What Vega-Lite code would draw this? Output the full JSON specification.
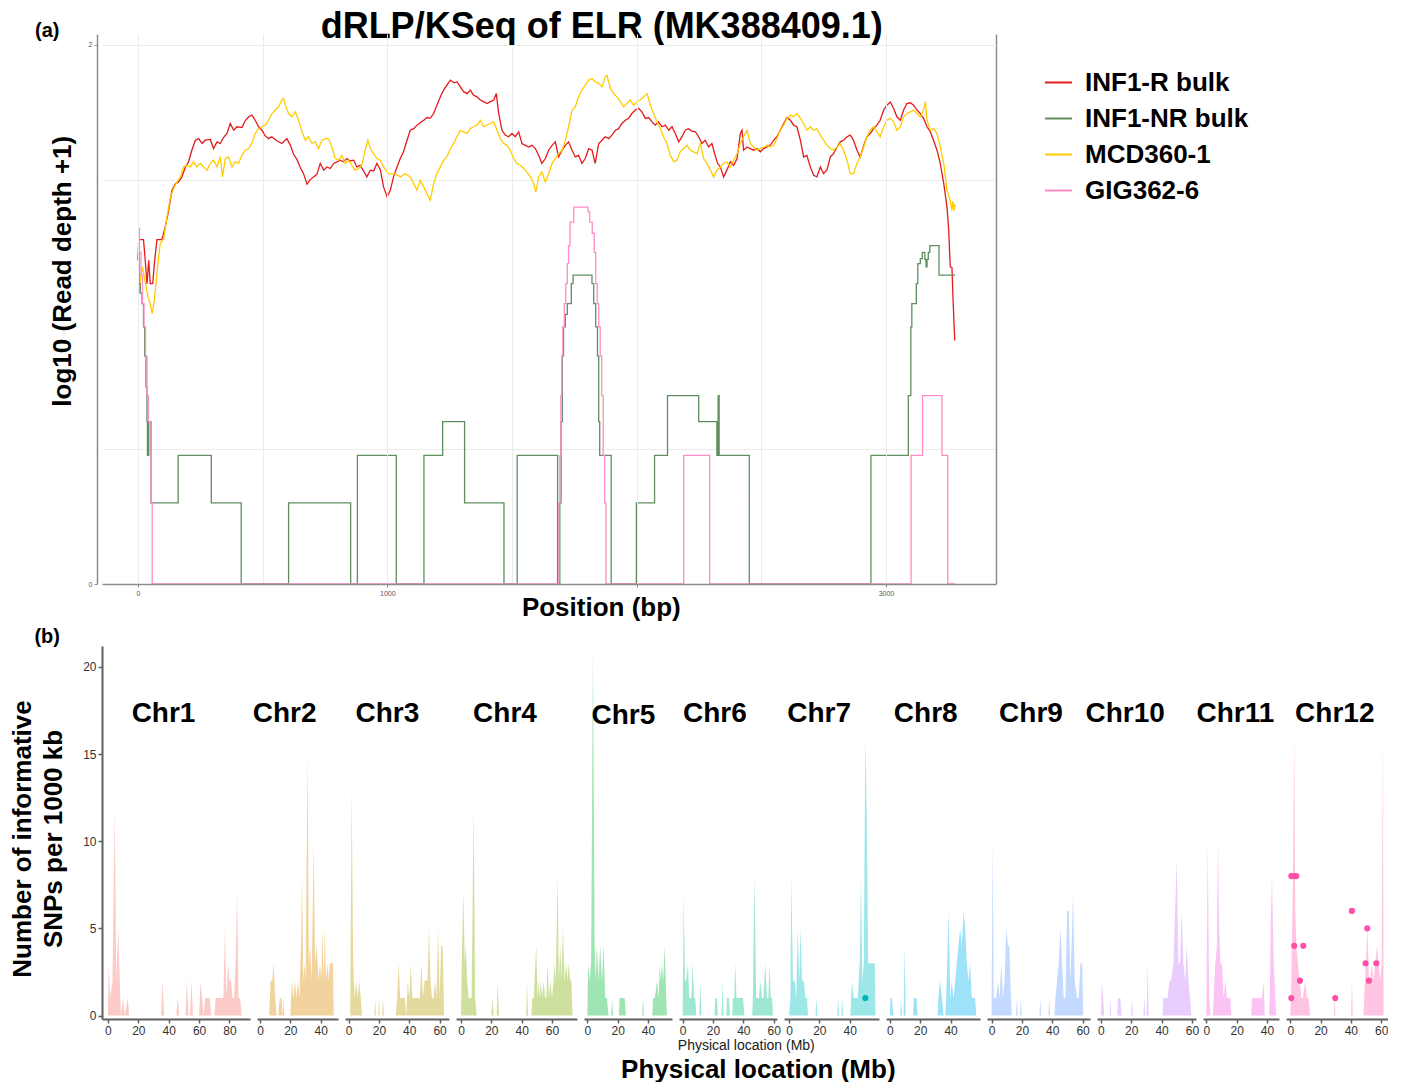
{
"$schema":"https://vega.github.io/schema/vega-lite/v6.json",
"padding":{"left":9,"top":8,"right":0,"bottom":0},
"config":{
 "font":"Liberation Sans",
 "view":{"stroke":null},
 "axis":{"labelOverlap":false,"labelFlush":false},
 "style":{
  "tx":{"domainColor":"#8c8c8c","domainWidth":1.5,"tickColor":"#8c8c8c","tickSize":3,"tickWidth":1,"labelFontSize":7,"labelColor":"#555555","gridColor":"#ebebeb","gridWidth":1,"labelPadding":2},
  "bx":{"domainColor":"#5f5f5f","domainWidth":2,"tickColor":"#5f5f5f","tickSize":4,"tickWidth":1.5,"labelFontSize":12,"labelColor":"#333333","labelPadding":2,"grid":false}
 }
},
"datasets":{
 "lin":[
{"s":"INF1-R bulk","bp":0,"v":1.2},{"s":"INF1-R bulk","bp":3,"v":1.28},{"s":"INF1-R bulk","bp":9,"v":1.277},{"s":"INF1-R bulk","bp":22,"v":1.277},{"s":"INF1-R bulk","bp":29,"v":1.201},{"s":"INF1-R bulk","bp":36,"v":1.114},{"s":"INF1-R bulk","bp":43,"v":1.201},{"s":"INF1-R bulk","bp":49,"v":1.114},{"s":"INF1-R bulk","bp":59,"v":1.114},{"s":"INF1-R bulk","bp":67,"v":1.201},{"s":"INF1-R bulk","bp":76,"v":1.277},{"s":"INF1-R bulk","bp":96,"v":1.277},{"s":"INF1-R bulk","bp":109,"v":1.324},{"s":"INF1-R bulk","bp":123,"v":1.386},{"s":"INF1-R bulk","bp":136,"v":1.46},{"s":"INF1-R bulk","bp":150,"v":1.485},{"s":"INF1-R bulk","bp":163,"v":1.491},{"s":"INF1-R bulk","bp":176,"v":1.51},{"s":"INF1-R bulk","bp":190,"v":1.547},{"s":"INF1-R bulk","bp":203,"v":1.566},{"s":"INF1-R bulk","bp":216,"v":1.609},{"s":"INF1-R bulk","bp":230,"v":1.646},{"s":"INF1-R bulk","bp":243,"v":1.652},{"s":"INF1-R bulk","bp":257,"v":1.634},{"s":"INF1-R bulk","bp":270,"v":1.646},{"s":"INF1-R bulk","bp":290,"v":1.649},{"s":"INF1-R bulk","bp":303,"v":1.615},{"s":"INF1-R bulk","bp":317,"v":1.64},{"s":"INF1-R bulk","bp":330,"v":1.634},{"s":"INF1-R bulk","bp":343,"v":1.656},{"s":"INF1-R bulk","bp":357,"v":1.671},{"s":"INF1-R bulk","bp":370,"v":1.708},{"s":"INF1-R bulk","bp":384,"v":1.683},{"s":"INF1-R bulk","bp":397,"v":1.696},{"s":"INF1-R bulk","bp":417,"v":1.693},{"s":"INF1-R bulk","bp":430,"v":1.718},{"s":"INF1-R bulk","bp":444,"v":1.733},{"s":"INF1-R bulk","bp":457,"v":1.739},{"s":"INF1-R bulk","bp":470,"v":1.72},{"s":"INF1-R bulk","bp":484,"v":1.696},{"s":"INF1-R bulk","bp":497,"v":1.683},{"s":"INF1-R bulk","bp":511,"v":1.661},{"s":"INF1-R bulk","bp":524,"v":1.652},{"s":"INF1-R bulk","bp":537,"v":1.659},{"s":"INF1-R bulk","bp":557,"v":1.644},{"s":"INF1-R bulk","bp":577,"v":1.634},{"s":"INF1-R bulk","bp":597,"v":1.652},{"s":"INF1-R bulk","bp":611,"v":1.628},{"s":"INF1-R bulk","bp":624,"v":1.594},{"s":"INF1-R bulk","bp":638,"v":1.574},{"s":"INF1-R bulk","bp":651,"v":1.545},{"s":"INF1-R bulk","bp":664,"v":1.522},{"s":"INF1-R bulk","bp":678,"v":1.483},{"s":"INF1-R bulk","bp":691,"v":1.5},{"s":"INF1-R bulk","bp":704,"v":1.51},{"s":"INF1-R bulk","bp":718,"v":1.52},{"s":"INF1-R bulk","bp":731,"v":1.56},{"s":"INF1-R bulk","bp":745,"v":1.535},{"s":"INF1-R bulk","bp":758,"v":1.547},{"s":"INF1-R bulk","bp":771,"v":1.541},{"s":"INF1-R bulk","bp":785,"v":1.56},{"s":"INF1-R bulk","bp":798,"v":1.566},{"s":"INF1-R bulk","bp":811,"v":1.572},{"s":"INF1-R bulk","bp":825,"v":1.566},{"s":"INF1-R bulk","bp":838,"v":1.578},{"s":"INF1-R bulk","bp":851,"v":1.569},{"s":"INF1-R bulk","bp":865,"v":1.572},{"s":"INF1-R bulk","bp":878,"v":1.547},{"s":"INF1-R bulk","bp":891,"v":1.553},{"s":"INF1-R bulk","bp":905,"v":1.532},{"s":"INF1-R bulk","bp":918,"v":1.51},{"s":"INF1-R bulk","bp":932,"v":1.535},{"s":"INF1-R bulk","bp":945,"v":1.532},{"s":"INF1-R bulk","bp":958,"v":1.56},{"s":"INF1-R bulk","bp":972,"v":1.537},{"s":"INF1-R bulk","bp":985,"v":1.473},{"s":"INF1-R bulk","bp":999,"v":1.436},{"s":"INF1-R bulk","bp":1012,"v":1.46},{"s":"INF1-R bulk","bp":1025,"v":1.51},{"s":"INF1-R bulk","bp":1039,"v":1.547},{"s":"INF1-R bulk","bp":1052,"v":1.578},{"s":"INF1-R bulk","bp":1065,"v":1.603},{"s":"INF1-R bulk","bp":1079,"v":1.646},{"s":"INF1-R bulk","bp":1092,"v":1.683},{"s":"INF1-R bulk","bp":1106,"v":1.689},{"s":"INF1-R bulk","bp":1119,"v":1.702},{"s":"INF1-R bulk","bp":1132,"v":1.711},{"s":"INF1-R bulk","bp":1146,"v":1.72},{"s":"INF1-R bulk","bp":1159,"v":1.73},{"s":"INF1-R bulk","bp":1172,"v":1.727},{"s":"INF1-R bulk","bp":1186,"v":1.745},{"s":"INF1-R bulk","bp":1199,"v":1.776},{"s":"INF1-R bulk","bp":1213,"v":1.807},{"s":"INF1-R bulk","bp":1226,"v":1.832},{"s":"INF1-R bulk","bp":1239,"v":1.85},{"s":"INF1-R bulk","bp":1253,"v":1.869},{"s":"INF1-R bulk","bp":1266,"v":1.859},{"s":"INF1-R bulk","bp":1279,"v":1.863},{"s":"INF1-R bulk","bp":1293,"v":1.844},{"s":"INF1-R bulk","bp":1306,"v":1.826},{"s":"INF1-R bulk","bp":1320,"v":1.819},{"s":"INF1-R bulk","bp":1333,"v":1.832},{"s":"INF1-R bulk","bp":1346,"v":1.813},{"s":"INF1-R bulk","bp":1360,"v":1.807},{"s":"INF1-R bulk","bp":1373,"v":1.795},{"s":"INF1-R bulk","bp":1386,"v":1.789},{"s":"INF1-R bulk","bp":1400,"v":1.782},{"s":"INF1-R bulk","bp":1413,"v":1.789},{"s":"INF1-R bulk","bp":1427,"v":1.795},{"s":"INF1-R bulk","bp":1437,"v":1.819},{"s":"INF1-R bulk","bp":1447,"v":1.745},{"s":"INF1-R bulk","bp":1460,"v":1.683},{"s":"INF1-R bulk","bp":1473,"v":1.665},{"s":"INF1-R bulk","bp":1487,"v":1.659},{"s":"INF1-R bulk","bp":1500,"v":1.671},{"s":"INF1-R bulk","bp":1513,"v":1.659},{"s":"INF1-R bulk","bp":1527,"v":1.677},{"s":"INF1-R bulk","bp":1540,"v":1.634},{"s":"INF1-R bulk","bp":1554,"v":1.627},{"s":"INF1-R bulk","bp":1567,"v":1.621},{"s":"INF1-R bulk","bp":1580,"v":1.627},{"s":"INF1-R bulk","bp":1594,"v":1.615},{"s":"INF1-R bulk","bp":1607,"v":1.59},{"s":"INF1-R bulk","bp":1620,"v":1.56},{"s":"INF1-R bulk","bp":1634,"v":1.578},{"s":"INF1-R bulk","bp":1647,"v":1.609},{"s":"INF1-R bulk","bp":1661,"v":1.627},{"s":"INF1-R bulk","bp":1674,"v":1.64},{"s":"INF1-R bulk","bp":1687,"v":1.584},{"s":"INF1-R bulk","bp":1701,"v":1.609},{"s":"INF1-R bulk","bp":1714,"v":1.627},{"s":"INF1-R bulk","bp":1727,"v":1.64},{"s":"INF1-R bulk","bp":1741,"v":1.609},{"s":"INF1-R bulk","bp":1754,"v":1.584},{"s":"INF1-R bulk","bp":1767,"v":1.59},{"s":"INF1-R bulk","bp":1781,"v":1.56},{"s":"INF1-R bulk","bp":1794,"v":1.578},{"s":"INF1-R bulk","bp":1808,"v":1.615},{"s":"INF1-R bulk","bp":1821,"v":1.609},{"s":"INF1-R bulk","bp":1834,"v":1.56},{"s":"INF1-R bulk","bp":1848,"v":1.634},{"s":"INF1-R bulk","bp":1861,"v":1.646},{"s":"INF1-R bulk","bp":1874,"v":1.659},{"s":"INF1-R bulk","bp":1888,"v":1.652},{"s":"INF1-R bulk","bp":1901,"v":1.665},{"s":"INF1-R bulk","bp":1915,"v":1.683},{"s":"INF1-R bulk","bp":1928,"v":1.689},{"s":"INF1-R bulk","bp":1941,"v":1.708},{"s":"INF1-R bulk","bp":1955,"v":1.72},{"s":"INF1-R bulk","bp":1968,"v":1.727},{"s":"INF1-R bulk","bp":1981,"v":1.745},{"s":"INF1-R bulk","bp":1995,"v":1.758},{"s":"INF1-R bulk","bp":2008,"v":1.764},{"s":"INF1-R bulk","bp":2021,"v":1.751},{"s":"INF1-R bulk","bp":2035,"v":1.727},{"s":"INF1-R bulk","bp":2048,"v":1.73},{"s":"INF1-R bulk","bp":2062,"v":1.714},{"s":"INF1-R bulk","bp":2075,"v":1.702},{"s":"INF1-R bulk","bp":2088,"v":1.714},{"s":"INF1-R bulk","bp":2102,"v":1.696},{"s":"INF1-R bulk","bp":2115,"v":1.702},{"s":"INF1-R bulk","bp":2129,"v":1.683},{"s":"INF1-R bulk","bp":2142,"v":1.696},{"s":"INF1-R bulk","bp":2155,"v":1.671},{"s":"INF1-R bulk","bp":2169,"v":1.64},{"s":"INF1-R bulk","bp":2182,"v":1.659},{"s":"INF1-R bulk","bp":2195,"v":1.683},{"s":"INF1-R bulk","bp":2208,"v":1.689},{"s":"INF1-R bulk","bp":2222,"v":1.68},{"s":"INF1-R bulk","bp":2236,"v":1.677},{"s":"INF1-R bulk","bp":2249,"v":1.659},{"s":"INF1-R bulk","bp":2262,"v":1.634},{"s":"INF1-R bulk","bp":2275,"v":1.646},{"s":"INF1-R bulk","bp":2289,"v":1.621},{"s":"INF1-R bulk","bp":2302,"v":1.634},{"s":"INF1-R bulk","bp":2315,"v":1.59},{"s":"INF1-R bulk","bp":2325,"v":1.56},{"s":"INF1-R bulk","bp":2336,"v":1.547},{"s":"INF1-R bulk","bp":2349,"v":1.51},{"s":"INF1-R bulk","bp":2362,"v":1.535},{"s":"INF1-R bulk","bp":2376,"v":1.566},{"s":"INF1-R bulk","bp":2389,"v":1.553},{"s":"INF1-R bulk","bp":2403,"v":1.578},{"s":"INF1-R bulk","bp":2416,"v":1.671},{"s":"INF1-R bulk","bp":2423,"v":1.683},{"s":"INF1-R bulk","bp":2429,"v":1.609},{"s":"INF1-R bulk","bp":2443,"v":1.621},{"s":"INF1-R bulk","bp":2456,"v":1.615},{"s":"INF1-R bulk","bp":2469,"v":1.609},{"s":"INF1-R bulk","bp":2483,"v":1.615},{"s":"INF1-R bulk","bp":2496,"v":1.603},{"s":"INF1-R bulk","bp":2510,"v":1.615},{"s":"INF1-R bulk","bp":2523,"v":1.621},{"s":"INF1-R bulk","bp":2536,"v":1.627},{"s":"INF1-R bulk","bp":2550,"v":1.646},{"s":"INF1-R bulk","bp":2563,"v":1.659},{"s":"INF1-R bulk","bp":2576,"v":1.683},{"s":"INF1-R bulk","bp":2590,"v":1.708},{"s":"INF1-R bulk","bp":2603,"v":1.73},{"s":"INF1-R bulk","bp":2617,"v":1.72},{"s":"INF1-R bulk","bp":2630,"v":1.702},{"s":"INF1-R bulk","bp":2643,"v":1.696},{"s":"INF1-R bulk","bp":2657,"v":1.646},{"s":"INF1-R bulk","bp":2670,"v":1.584},{"s":"INF1-R bulk","bp":2683,"v":1.59},{"s":"INF1-R bulk","bp":2697,"v":1.547},{"s":"INF1-R bulk","bp":2710,"v":1.516},{"s":"INF1-R bulk","bp":2723,"v":1.51},{"s":"INF1-R bulk","bp":2737,"v":1.547},{"s":"INF1-R bulk","bp":2750,"v":1.522},{"s":"INF1-R bulk","bp":2764,"v":1.537},{"s":"INF1-R bulk","bp":2777,"v":1.584},{"s":"INF1-R bulk","bp":2790,"v":1.596},{"s":"INF1-R bulk","bp":2804,"v":1.621},{"s":"INF1-R bulk","bp":2817,"v":1.64},{"s":"INF1-R bulk","bp":2830,"v":1.646},{"s":"INF1-R bulk","bp":2844,"v":1.659},{"s":"INF1-R bulk","bp":2857,"v":1.665},{"s":"INF1-R bulk","bp":2870,"v":1.646},{"s":"INF1-R bulk","bp":2884,"v":1.609},{"s":"INF1-R bulk","bp":2897,"v":1.584},{"s":"INF1-R bulk","bp":2911,"v":1.627},{"s":"INF1-R bulk","bp":2924,"v":1.659},{"s":"INF1-R bulk","bp":2937,"v":1.671},{"s":"INF1-R bulk","bp":2951,"v":1.689},{"s":"INF1-R bulk","bp":2964,"v":1.702},{"s":"INF1-R bulk","bp":2977,"v":1.72},{"s":"INF1-R bulk","bp":2991,"v":1.758},{"s":"INF1-R bulk","bp":3004,"v":1.776},{"s":"INF1-R bulk","bp":3018,"v":1.788},{"s":"INF1-R bulk","bp":3031,"v":1.764},{"s":"INF1-R bulk","bp":3044,"v":1.733},{"s":"INF1-R bulk","bp":3058,"v":1.72},{"s":"INF1-R bulk","bp":3071,"v":1.758},{"s":"INF1-R bulk","bp":3084,"v":1.782},{"s":"INF1-R bulk","bp":3098,"v":1.785},{"s":"INF1-R bulk","bp":3111,"v":1.776},{"s":"INF1-R bulk","bp":3125,"v":1.758},{"s":"INF1-R bulk","bp":3138,"v":1.745},{"s":"INF1-R bulk","bp":3151,"v":1.727},{"s":"INF1-R bulk","bp":3165,"v":1.696},{"s":"INF1-R bulk","bp":3178,"v":1.677},{"s":"INF1-R bulk","bp":3191,"v":1.646},{"s":"INF1-R bulk","bp":3205,"v":1.609},{"s":"INF1-R bulk","bp":3218,"v":1.56},{"s":"INF1-R bulk","bp":3232,"v":1.485},{"s":"INF1-R bulk","bp":3245,"v":1.399},{"s":"INF1-R bulk","bp":3252,"v":1.312},{"s":"INF1-R bulk","bp":3258,"v":1.176},{"s":"INF1-R bulk","bp":3265,"v":1.173},{"s":"INF1-R bulk","bp":3269,"v":1.064},{"s":"INF1-R bulk","bp":3276,"v":0.903},
{"s":"MCD360-1","bp":5,"v":1.08},{"s":"MCD360-1","bp":10,"v":1.14},{"s":"MCD360-1","bp":18,"v":1.176},{"s":"MCD360-1","bp":25,"v":1.14},{"s":"MCD360-1","bp":30,"v":1.114},{"s":"MCD360-1","bp":40,"v":1.064},{"s":"MCD360-1","bp":49,"v":1.04},{"s":"MCD360-1","bp":57,"v":1.003},{"s":"MCD360-1","bp":65,"v":1.05},{"s":"MCD360-1","bp":72,"v":1.114},{"s":"MCD360-1","bp":80,"v":1.188},{"s":"MCD360-1","bp":89,"v":1.262},{"s":"MCD360-1","bp":103,"v":1.281},{"s":"MCD360-1","bp":116,"v":1.361},{"s":"MCD360-1","bp":130,"v":1.436},{"s":"MCD360-1","bp":143,"v":1.467},{"s":"MCD360-1","bp":156,"v":1.491},{"s":"MCD360-1","bp":170,"v":1.51},{"s":"MCD360-1","bp":183,"v":1.547},{"s":"MCD360-1","bp":196,"v":1.553},{"s":"MCD360-1","bp":210,"v":1.547},{"s":"MCD360-1","bp":223,"v":1.566},{"s":"MCD360-1","bp":236,"v":1.547},{"s":"MCD360-1","bp":250,"v":1.56},{"s":"MCD360-1","bp":263,"v":1.547},{"s":"MCD360-1","bp":277,"v":1.535},{"s":"MCD360-1","bp":290,"v":1.56},{"s":"MCD360-1","bp":303,"v":1.572},{"s":"MCD360-1","bp":317,"v":1.547},{"s":"MCD360-1","bp":330,"v":1.584},{"s":"MCD360-1","bp":339,"v":1.51},{"s":"MCD360-1","bp":350,"v":1.578},{"s":"MCD360-1","bp":363,"v":1.584},{"s":"MCD360-1","bp":377,"v":1.547},{"s":"MCD360-1","bp":390,"v":1.566},{"s":"MCD360-1","bp":403,"v":1.56},{"s":"MCD360-1","bp":417,"v":1.59},{"s":"MCD360-1","bp":430,"v":1.609},{"s":"MCD360-1","bp":444,"v":1.615},{"s":"MCD360-1","bp":457,"v":1.634},{"s":"MCD360-1","bp":470,"v":1.671},{"s":"MCD360-1","bp":484,"v":1.689},{"s":"MCD360-1","bp":497,"v":1.696},{"s":"MCD360-1","bp":511,"v":1.702},{"s":"MCD360-1","bp":524,"v":1.72},{"s":"MCD360-1","bp":537,"v":1.745},{"s":"MCD360-1","bp":551,"v":1.758},{"s":"MCD360-1","bp":564,"v":1.77},{"s":"MCD360-1","bp":577,"v":1.795},{"s":"MCD360-1","bp":584,"v":1.801},{"s":"MCD360-1","bp":591,"v":1.776},{"s":"MCD360-1","bp":604,"v":1.745},{"s":"MCD360-1","bp":617,"v":1.733},{"s":"MCD360-1","bp":631,"v":1.751},{"s":"MCD360-1","bp":644,"v":1.72},{"s":"MCD360-1","bp":658,"v":1.677},{"s":"MCD360-1","bp":671,"v":1.646},{"s":"MCD360-1","bp":684,"v":1.659},{"s":"MCD360-1","bp":698,"v":1.634},{"s":"MCD360-1","bp":711,"v":1.64},{"s":"MCD360-1","bp":724,"v":1.615},{"s":"MCD360-1","bp":738,"v":1.646},{"s":"MCD360-1","bp":751,"v":1.652},{"s":"MCD360-1","bp":764,"v":1.652},{"s":"MCD360-1","bp":778,"v":1.621},{"s":"MCD360-1","bp":791,"v":1.578},{"s":"MCD360-1","bp":805,"v":1.572},{"s":"MCD360-1","bp":818,"v":1.59},{"s":"MCD360-1","bp":831,"v":1.56},{"s":"MCD360-1","bp":845,"v":1.572},{"s":"MCD360-1","bp":858,"v":1.553},{"s":"MCD360-1","bp":871,"v":1.535},{"s":"MCD360-1","bp":885,"v":1.541},{"s":"MCD360-1","bp":898,"v":1.553},{"s":"MCD360-1","bp":911,"v":1.609},{"s":"MCD360-1","bp":922,"v":1.646},{"s":"MCD360-1","bp":932,"v":1.615},{"s":"MCD360-1","bp":945,"v":1.596},{"s":"MCD360-1","bp":958,"v":1.578},{"s":"MCD360-1","bp":972,"v":1.572},{"s":"MCD360-1","bp":985,"v":1.547},{"s":"MCD360-1","bp":999,"v":1.528},{"s":"MCD360-1","bp":1012,"v":1.52},{"s":"MCD360-1","bp":1032,"v":1.522},{"s":"MCD360-1","bp":1052,"v":1.51},{"s":"MCD360-1","bp":1072,"v":1.522},{"s":"MCD360-1","bp":1092,"v":1.51},{"s":"MCD360-1","bp":1106,"v":1.485},{"s":"MCD360-1","bp":1119,"v":1.46},{"s":"MCD360-1","bp":1132,"v":1.497},{"s":"MCD360-1","bp":1146,"v":1.473},{"s":"MCD360-1","bp":1159,"v":1.448},{"s":"MCD360-1","bp":1172,"v":1.423},{"s":"MCD360-1","bp":1186,"v":1.485},{"s":"MCD360-1","bp":1199,"v":1.522},{"s":"MCD360-1","bp":1213,"v":1.547},{"s":"MCD360-1","bp":1226,"v":1.572},{"s":"MCD360-1","bp":1239,"v":1.584},{"s":"MCD360-1","bp":1253,"v":1.615},{"s":"MCD360-1","bp":1266,"v":1.634},{"s":"MCD360-1","bp":1279,"v":1.659},{"s":"MCD360-1","bp":1293,"v":1.683},{"s":"MCD360-1","bp":1306,"v":1.677},{"s":"MCD360-1","bp":1320,"v":1.671},{"s":"MCD360-1","bp":1333,"v":1.689},{"s":"MCD360-1","bp":1346,"v":1.696},{"s":"MCD360-1","bp":1360,"v":1.702},{"s":"MCD360-1","bp":1373,"v":1.72},{"s":"MCD360-1","bp":1386,"v":1.696},{"s":"MCD360-1","bp":1400,"v":1.702},{"s":"MCD360-1","bp":1413,"v":1.708},{"s":"MCD360-1","bp":1427,"v":1.714},{"s":"MCD360-1","bp":1440,"v":1.683},{"s":"MCD360-1","bp":1453,"v":1.652},{"s":"MCD360-1","bp":1467,"v":1.634},{"s":"MCD360-1","bp":1480,"v":1.627},{"s":"MCD360-1","bp":1493,"v":1.609},{"s":"MCD360-1","bp":1507,"v":1.578},{"s":"MCD360-1","bp":1520,"v":1.56},{"s":"MCD360-1","bp":1534,"v":1.553},{"s":"MCD360-1","bp":1547,"v":1.541},{"s":"MCD360-1","bp":1560,"v":1.528},{"s":"MCD360-1","bp":1574,"v":1.51},{"s":"MCD360-1","bp":1587,"v":1.485},{"s":"MCD360-1","bp":1596,"v":1.454},{"s":"MCD360-1","bp":1607,"v":1.51},{"s":"MCD360-1","bp":1620,"v":1.528},{"s":"MCD360-1","bp":1634,"v":1.491},{"s":"MCD360-1","bp":1647,"v":1.522},{"s":"MCD360-1","bp":1661,"v":1.56},{"s":"MCD360-1","bp":1674,"v":1.578},{"s":"MCD360-1","bp":1687,"v":1.596},{"s":"MCD360-1","bp":1701,"v":1.609},{"s":"MCD360-1","bp":1714,"v":1.646},{"s":"MCD360-1","bp":1727,"v":1.696},{"s":"MCD360-1","bp":1741,"v":1.758},{"s":"MCD360-1","bp":1754,"v":1.77},{"s":"MCD360-1","bp":1767,"v":1.807},{"s":"MCD360-1","bp":1781,"v":1.832},{"s":"MCD360-1","bp":1794,"v":1.85},{"s":"MCD360-1","bp":1808,"v":1.869},{"s":"MCD360-1","bp":1821,"v":1.875},{"s":"MCD360-1","bp":1834,"v":1.863},{"s":"MCD360-1","bp":1848,"v":1.857},{"s":"MCD360-1","bp":1861,"v":1.844},{"s":"MCD360-1","bp":1874,"v":1.881},{"s":"MCD360-1","bp":1881,"v":1.887},{"s":"MCD360-1","bp":1895,"v":1.838},{"s":"MCD360-1","bp":1908,"v":1.819},{"s":"MCD360-1","bp":1921,"v":1.807},{"s":"MCD360-1","bp":1935,"v":1.789},{"s":"MCD360-1","bp":1948,"v":1.77},{"s":"MCD360-1","bp":1961,"v":1.782},{"s":"MCD360-1","bp":1975,"v":1.795},{"s":"MCD360-1","bp":1988,"v":1.776},{"s":"MCD360-1","bp":2002,"v":1.789},{"s":"MCD360-1","bp":2015,"v":1.795},{"s":"MCD360-1","bp":2028,"v":1.807},{"s":"MCD360-1","bp":2042,"v":1.819},{"s":"MCD360-1","bp":2055,"v":1.776},{"s":"MCD360-1","bp":2068,"v":1.745},{"s":"MCD360-1","bp":2082,"v":1.714},{"s":"MCD360-1","bp":2095,"v":1.689},{"s":"MCD360-1","bp":2108,"v":1.659},{"s":"MCD360-1","bp":2122,"v":1.634},{"s":"MCD360-1","bp":2135,"v":1.59},{"s":"MCD360-1","bp":2149,"v":1.566},{"s":"MCD360-1","bp":2162,"v":1.572},{"s":"MCD360-1","bp":2175,"v":1.603},{"s":"MCD360-1","bp":2189,"v":1.615},{"s":"MCD360-1","bp":2202,"v":1.627},{"s":"MCD360-1","bp":2215,"v":1.609},{"s":"MCD360-1","bp":2229,"v":1.603},{"s":"MCD360-1","bp":2242,"v":1.596},{"s":"MCD360-1","bp":2256,"v":1.634},{"s":"MCD360-1","bp":2269,"v":1.578},{"s":"MCD360-1","bp":2282,"v":1.56},{"s":"MCD360-1","bp":2296,"v":1.535},{"s":"MCD360-1","bp":2309,"v":1.51},{"s":"MCD360-1","bp":2322,"v":1.535},{"s":"MCD360-1","bp":2336,"v":1.547},{"s":"MCD360-1","bp":2349,"v":1.56},{"s":"MCD360-1","bp":2362,"v":1.566},{"s":"MCD360-1","bp":2376,"v":1.547},{"s":"MCD360-1","bp":2389,"v":1.572},{"s":"MCD360-1","bp":2403,"v":1.596},{"s":"MCD360-1","bp":2416,"v":1.634},{"s":"MCD360-1","bp":2429,"v":1.659},{"s":"MCD360-1","bp":2443,"v":1.683},{"s":"MCD360-1","bp":2456,"v":1.634},{"s":"MCD360-1","bp":2469,"v":1.621},{"s":"MCD360-1","bp":2483,"v":1.609},{"s":"MCD360-1","bp":2496,"v":1.615},{"s":"MCD360-1","bp":2510,"v":1.621},{"s":"MCD360-1","bp":2523,"v":1.627},{"s":"MCD360-1","bp":2536,"v":1.621},{"s":"MCD360-1","bp":2550,"v":1.627},{"s":"MCD360-1","bp":2563,"v":1.652},{"s":"MCD360-1","bp":2576,"v":1.683},{"s":"MCD360-1","bp":2590,"v":1.702},{"s":"MCD360-1","bp":2603,"v":1.727},{"s":"MCD360-1","bp":2617,"v":1.739},{"s":"MCD360-1","bp":2630,"v":1.733},{"s":"MCD360-1","bp":2643,"v":1.745},{"s":"MCD360-1","bp":2657,"v":1.727},{"s":"MCD360-1","bp":2670,"v":1.708},{"s":"MCD360-1","bp":2683,"v":1.683},{"s":"MCD360-1","bp":2697,"v":1.696},{"s":"MCD360-1","bp":2710,"v":1.683},{"s":"MCD360-1","bp":2723,"v":1.689},{"s":"MCD360-1","bp":2737,"v":1.665},{"s":"MCD360-1","bp":2750,"v":1.646},{"s":"MCD360-1","bp":2764,"v":1.627},{"s":"MCD360-1","bp":2777,"v":1.615},{"s":"MCD360-1","bp":2790,"v":1.609},{"s":"MCD360-1","bp":2804,"v":1.621},{"s":"MCD360-1","bp":2817,"v":1.634},{"s":"MCD360-1","bp":2830,"v":1.609},{"s":"MCD360-1","bp":2844,"v":1.572},{"s":"MCD360-1","bp":2857,"v":1.522},{"s":"MCD360-1","bp":2870,"v":1.522},{"s":"MCD360-1","bp":2884,"v":1.56},{"s":"MCD360-1","bp":2897,"v":1.584},{"s":"MCD360-1","bp":2911,"v":1.621},{"s":"MCD360-1","bp":2924,"v":1.659},{"s":"MCD360-1","bp":2937,"v":1.683},{"s":"MCD360-1","bp":2951,"v":1.696},{"s":"MCD360-1","bp":2964,"v":1.677},{"s":"MCD360-1","bp":2977,"v":1.659},{"s":"MCD360-1","bp":2991,"v":1.696},{"s":"MCD360-1","bp":3004,"v":1.72},{"s":"MCD360-1","bp":3018,"v":1.727},{"s":"MCD360-1","bp":3031,"v":1.714},{"s":"MCD360-1","bp":3044,"v":1.683},{"s":"MCD360-1","bp":3058,"v":1.696},{"s":"MCD360-1","bp":3071,"v":1.733},{"s":"MCD360-1","bp":3084,"v":1.745},{"s":"MCD360-1","bp":3098,"v":1.751},{"s":"MCD360-1","bp":3111,"v":1.758},{"s":"MCD360-1","bp":3125,"v":1.745},{"s":"MCD360-1","bp":3138,"v":1.733},{"s":"MCD360-1","bp":3151,"v":1.758},{"s":"MCD360-1","bp":3158,"v":1.789},{"s":"MCD360-1","bp":3165,"v":1.72},{"s":"MCD360-1","bp":3178,"v":1.683},{"s":"MCD360-1","bp":3191,"v":1.689},{"s":"MCD360-1","bp":3205,"v":1.671},{"s":"MCD360-1","bp":3218,"v":1.621},{"s":"MCD360-1","bp":3232,"v":1.56},{"s":"MCD360-1","bp":3245,"v":1.46},{"s":"MCD360-1","bp":3258,"v":1.423},{"s":"MCD360-1","bp":3265,"v":1.386},{"s":"MCD360-1","bp":3269,"v":1.42},{"s":"MCD360-1","bp":3274,"v":1.386},{"s":"MCD360-1","bp":3278,"v":1.41}
 ],
 "stp":[
{"s":"INF1-NR bulk","bp":0,"v":1.23},{"s":"INF1-NR bulk","bp":4,"v":1.114},{"s":"INF1-NR bulk","bp":9,"v":1.079},{"s":"INF1-NR bulk","bp":16,"v":1.04},{"s":"INF1-NR bulk","bp":22,"v":0.954},{"s":"INF1-NR bulk","bp":27,"v":0.845},{"s":"INF1-NR bulk","bp":32,"v":0.73},{"s":"INF1-NR bulk","bp":36,"v":0.602},{"s":"INF1-NR bulk","bp":38,"v":0.477},{"s":"INF1-NR bulk","bp":42,"v":0.602},{"s":"INF1-NR bulk","bp":52,"v":0.301},{"s":"INF1-NR bulk","bp":161,"v":0.477},{"s":"INF1-NR bulk","bp":294,"v":0.301},{"s":"INF1-NR bulk","bp":414,"v":0},{"s":"INF1-NR bulk","bp":604,"v":0.301},{"s":"INF1-NR bulk","bp":853,"v":0},{"s":"INF1-NR bulk","bp":880,"v":0.477},{"s":"INF1-NR bulk","bp":1036,"v":0},{"s":"INF1-NR bulk","bp":1147,"v":0.477},{"s":"INF1-NR bulk","bp":1222,"v":0.602},{"s":"INF1-NR bulk","bp":1310,"v":0.301},{"s":"INF1-NR bulk","bp":1468,"v":0},{"s":"INF1-NR bulk","bp":1521,"v":0.477},{"s":"INF1-NR bulk","bp":1683,"v":0},{"s":"INF1-NR bulk","bp":1692,"v":0.301},{"s":"INF1-NR bulk","bp":1697,"v":0.602},{"s":"INF1-NR bulk","bp":1702,"v":0.845},{"s":"INF1-NR bulk","bp":1707,"v":0.954},{"s":"INF1-NR bulk","bp":1714,"v":1.0},{"s":"INF1-NR bulk","bp":1722,"v":1.04},{"s":"INF1-NR bulk","bp":1738,"v":1.114},{"s":"INF1-NR bulk","bp":1745,"v":1.146},{"s":"INF1-NR bulk","bp":1821,"v":1.114},{"s":"INF1-NR bulk","bp":1828,"v":1.04},{"s":"INF1-NR bulk","bp":1836,"v":0.954},{"s":"INF1-NR bulk","bp":1843,"v":0.845},{"s":"INF1-NR bulk","bp":1848,"v":0.602},{"s":"INF1-NR bulk","bp":1852,"v":0.477},{"s":"INF1-NR bulk","bp":1898,"v":0},{"s":"INF1-NR bulk","bp":1999,"v":0.301},{"s":"INF1-NR bulk","bp":2072,"v":0.477},{"s":"INF1-NR bulk","bp":2124,"v":0.699},{"s":"INF1-NR bulk","bp":2249,"v":0.602},{"s":"INF1-NR bulk","bp":2322,"v":0.477},{"s":"INF1-NR bulk","bp":2327,"v":0.699},{"s":"INF1-NR bulk","bp":2331,"v":0.477},{"s":"INF1-NR bulk","bp":2452,"v":0},{"s":"INF1-NR bulk","bp":2940,"v":0.477},{"s":"INF1-NR bulk","bp":3090,"v":0.699},{"s":"INF1-NR bulk","bp":3100,"v":0.954},{"s":"INF1-NR bulk","bp":3104,"v":1.04},{"s":"INF1-NR bulk","bp":3122,"v":1.114},{"s":"INF1-NR bulk","bp":3128,"v":1.188},{"s":"INF1-NR bulk","bp":3138,"v":1.207},{"s":"INF1-NR bulk","bp":3146,"v":1.23},{"s":"INF1-NR bulk","bp":3156,"v":1.204},{"s":"INF1-NR bulk","bp":3161,"v":1.176},{"s":"INF1-NR bulk","bp":3165,"v":1.204},{"s":"INF1-NR bulk","bp":3170,"v":1.23},{"s":"INF1-NR bulk","bp":3176,"v":1.255},{"s":"INF1-NR bulk","bp":3213,"v":1.146},{"s":"INF1-NR bulk","bp":3278,"v":1.146},
{"s":"GIG362-6","bp":0,"v":1.32},{"s":"GIG362-6","bp":6,"v":1.23},{"s":"GIG362-6","bp":12,"v":1.146},{"s":"GIG362-6","bp":18,"v":1.04},{"s":"GIG362-6","bp":24,"v":0.954},{"s":"GIG362-6","bp":30,"v":0.845},{"s":"GIG362-6","bp":36,"v":0.699},{"s":"GIG362-6","bp":42,"v":0.602},{"s":"GIG362-6","bp":48,"v":0.477},{"s":"GIG362-6","bp":52,"v":0.301},{"s":"GIG362-6","bp":57,"v":0},{"s":"GIG362-6","bp":1688,"v":0.301},{"s":"GIG362-6","bp":1692,"v":0.477},{"s":"GIG362-6","bp":1696,"v":0.699},{"s":"GIG362-6","bp":1700,"v":0.845},{"s":"GIG362-6","bp":1704,"v":0.954},{"s":"GIG362-6","bp":1710,"v":1.04},{"s":"GIG362-6","bp":1716,"v":1.114},{"s":"GIG362-6","bp":1722,"v":1.188},{"s":"GIG362-6","bp":1727,"v":1.255},{"s":"GIG362-6","bp":1733,"v":1.342},{"s":"GIG362-6","bp":1748,"v":1.398},{"s":"GIG362-6","bp":1805,"v":1.38},{"s":"GIG362-6","bp":1812,"v":1.342},{"s":"GIG362-6","bp":1822,"v":1.301},{"s":"GIG362-6","bp":1830,"v":1.23},{"s":"GIG362-6","bp":1836,"v":1.114},{"s":"GIG362-6","bp":1842,"v":1.04},{"s":"GIG362-6","bp":1848,"v":0.954},{"s":"GIG362-6","bp":1854,"v":0.845},{"s":"GIG362-6","bp":1860,"v":0.699},{"s":"GIG362-6","bp":1866,"v":0.477},{"s":"GIG362-6","bp":1872,"v":0.301},{"s":"GIG362-6","bp":1877,"v":0},{"s":"GIG362-6","bp":2189,"v":0.477},{"s":"GIG362-6","bp":2293,"v":0},{"s":"GIG362-6","bp":3101,"v":0.477},{"s":"GIG362-6","bp":3147,"v":0.699},{"s":"GIG362-6","bp":3225,"v":0.477},{"s":"GIG362-6","bp":3248,"v":0},{"s":"GIG362-6","bp":3278,"v":0}
 ],
 "snp":[
{"chr":"Chr1","mb":0,"n":0},{"chr":"Chr1","mb":0.5,"n":3},{"chr":"Chr1","mb":1.5,"n":1},{"chr":"Chr1","mb":3,"n":2},{"chr":"Chr1","mb":4.5,"n":12},{"chr":"Chr1","mb":5.5,"n":2},{"chr":"Chr1","mb":6.8,"n":5},{"chr":"Chr1","mb":7.8,"n":2},{"chr":"Chr1","mb":8.5,"n":0},{"chr":"Chr1","mb":10,"n":1},{"chr":"Chr1","mb":11,"n":0},{"chr":"Chr1","mb":13,"n":1},{"chr":"Chr1","mb":14,"n":0},{"chr":"Chr1","mb":35,"n":0},{"chr":"Chr1","mb":36,"n":2},{"chr":"Chr1","mb":37,"n":0},{"chr":"Chr1","mb":45,"n":0},{"chr":"Chr1","mb":46,"n":1},{"chr":"Chr1","mb":47,"n":0},{"chr":"Chr1","mb":51,"n":0},{"chr":"Chr1","mb":52,"n":2},{"chr":"Chr1","mb":53,"n":0},{"chr":"Chr1","mb":54,"n":0},{"chr":"Chr1","mb":55,"n":2},{"chr":"Chr1","mb":56,"n":0},{"chr":"Chr1","mb":60,"n":0},{"chr":"Chr1","mb":61,"n":2},{"chr":"Chr1","mb":62,"n":1},{"chr":"Chr1","mb":63,"n":0},{"chr":"Chr1","mb":64,"n":1},{"chr":"Chr1","mb":65,"n":1},{"chr":"Chr1","mb":66,"n":1},{"chr":"Chr1","mb":67,"n":1},{"chr":"Chr1","mb":68,"n":0},{"chr":"Chr1","mb":70,"n":0},{"chr":"Chr1","mb":71,"n":1},{"chr":"Chr1","mb":72,"n":1},{"chr":"Chr1","mb":73,"n":1},{"chr":"Chr1","mb":74,"n":1},{"chr":"Chr1","mb":75,"n":1},{"chr":"Chr1","mb":76,"n":1},{"chr":"Chr1","mb":77,"n":5},{"chr":"Chr1","mb":78,"n":1},{"chr":"Chr1","mb":79,"n":3},{"chr":"Chr1","mb":80,"n":2},{"chr":"Chr1","mb":81,"n":2},{"chr":"Chr1","mb":82,"n":1},{"chr":"Chr1","mb":83,"n":1},{"chr":"Chr1","mb":84,"n":3},{"chr":"Chr1","mb":85,"n":7},{"chr":"Chr1","mb":86,"n":1},{"chr":"Chr1","mb":87,"n":1},{"chr":"Chr1","mb":88,"n":0},
{"chr":"Chr2","mb":6,"n":0},{"chr":"Chr2","mb":7,"n":2},{"chr":"Chr2","mb":8,"n":2},{"chr":"Chr2","mb":9,"n":3},{"chr":"Chr2","mb":10,"n":1},{"chr":"Chr2","mb":11,"n":0},{"chr":"Chr2","mb":12,"n":0},{"chr":"Chr2","mb":13,"n":1},{"chr":"Chr2","mb":14,"n":1},{"chr":"Chr2","mb":15,"n":0},{"chr":"Chr2","mb":15.5,"n":1},{"chr":"Chr2","mb":16,"n":0},{"chr":"Chr2","mb":20,"n":0},{"chr":"Chr2","mb":21,"n":2},{"chr":"Chr2","mb":22,"n":1},{"chr":"Chr2","mb":23,"n":2},{"chr":"Chr2","mb":24,"n":1},{"chr":"Chr2","mb":25,"n":2},{"chr":"Chr2","mb":26,"n":1},{"chr":"Chr2","mb":27,"n":4},{"chr":"Chr2","mb":27.7,"n":8},{"chr":"Chr2","mb":28.5,"n":2},{"chr":"Chr2","mb":29.3,"n":3},{"chr":"Chr2","mb":30,"n":2},{"chr":"Chr2","mb":31.4,"n":15},{"chr":"Chr2","mb":32.2,"n":3},{"chr":"Chr2","mb":33,"n":4},{"chr":"Chr2","mb":34,"n":2},{"chr":"Chr2","mb":35.4,"n":10},{"chr":"Chr2","mb":36.3,"n":3},{"chr":"Chr2","mb":37.5,"n":4},{"chr":"Chr2","mb":38.5,"n":2},{"chr":"Chr2","mb":39.5,"n":3},{"chr":"Chr2","mb":40.5,"n":2},{"chr":"Chr2","mb":41,"n":5},{"chr":"Chr2","mb":42,"n":2},{"chr":"Chr2","mb":42.6,"n":5},{"chr":"Chr2","mb":43.5,"n":2},{"chr":"Chr2","mb":44.5,"n":3},{"chr":"Chr2","mb":45.3,"n":2},{"chr":"Chr2","mb":46,"n":3},{"chr":"Chr2","mb":47,"n":3},{"chr":"Chr2","mb":48,"n":3},{"chr":"Chr2","mb":48.6,"n":0},
{"chr":"Chr3","mb":1,"n":0},{"chr":"Chr3","mb":2,"n":13},{"chr":"Chr3","mb":3,"n":3},{"chr":"Chr3","mb":4,"n":1},{"chr":"Chr3","mb":5,"n":2},{"chr":"Chr3","mb":6,"n":1},{"chr":"Chr3","mb":7,"n":2},{"chr":"Chr3","mb":8,"n":1},{"chr":"Chr3","mb":8.8,"n":0},{"chr":"Chr3","mb":17,"n":0},{"chr":"Chr3","mb":17.5,"n":1},{"chr":"Chr3","mb":18,"n":0},{"chr":"Chr3","mb":19.5,"n":0},{"chr":"Chr3","mb":20,"n":1},{"chr":"Chr3","mb":20.5,"n":0},{"chr":"Chr3","mb":22,"n":0},{"chr":"Chr3","mb":22.6,"n":1},{"chr":"Chr3","mb":23.2,"n":0},{"chr":"Chr3","mb":31,"n":0},{"chr":"Chr3","mb":32,"n":1},{"chr":"Chr3","mb":33,"n":3},{"chr":"Chr3","mb":34,"n":1},{"chr":"Chr3","mb":35,"n":1},{"chr":"Chr3","mb":36,"n":1},{"chr":"Chr3","mb":37,"n":1},{"chr":"Chr3","mb":38,"n":0},{"chr":"Chr3","mb":39,"n":2},{"chr":"Chr3","mb":40,"n":1},{"chr":"Chr3","mb":41,"n":3},{"chr":"Chr3","mb":42,"n":1},{"chr":"Chr3","mb":43,"n":1},{"chr":"Chr3","mb":44,"n":1},{"chr":"Chr3","mb":45,"n":1},{"chr":"Chr3","mb":46,"n":1},{"chr":"Chr3","mb":47,"n":1},{"chr":"Chr3","mb":48,"n":3},{"chr":"Chr3","mb":49,"n":1},{"chr":"Chr3","mb":50,"n":2},{"chr":"Chr3","mb":51,"n":2},{"chr":"Chr3","mb":52,"n":2},{"chr":"Chr3","mb":53,"n":5},{"chr":"Chr3","mb":54,"n":2},{"chr":"Chr3","mb":55,"n":1},{"chr":"Chr3","mb":56,"n":1},{"chr":"Chr3","mb":57,"n":2},{"chr":"Chr3","mb":58,"n":1},{"chr":"Chr3","mb":59,"n":5},{"chr":"Chr3","mb":60,"n":1},{"chr":"Chr3","mb":61,"n":4},{"chr":"Chr3","mb":62,"n":4},{"chr":"Chr3","mb":63,"n":0},
{"chr":"Chr4","mb":0,"n":0},{"chr":"Chr4","mb":0.5,"n":3},{"chr":"Chr4","mb":1.5,"n":7},{"chr":"Chr4","mb":2.5,"n":3},{"chr":"Chr4","mb":3.2,"n":4},{"chr":"Chr4","mb":4,"n":2},{"chr":"Chr4","mb":5,"n":1},{"chr":"Chr4","mb":6,"n":1},{"chr":"Chr4","mb":7,"n":1},{"chr":"Chr4","mb":8.3,"n":12},{"chr":"Chr4","mb":9.3,"n":1},{"chr":"Chr4","mb":10.3,"n":0},{"chr":"Chr4","mb":20,"n":0},{"chr":"Chr4","mb":20.8,"n":1},{"chr":"Chr4","mb":21.5,"n":0},{"chr":"Chr4","mb":23.5,"n":0},{"chr":"Chr4","mb":24.2,"n":2},{"chr":"Chr4","mb":25,"n":0},{"chr":"Chr4","mb":43,"n":0},{"chr":"Chr4","mb":43.5,"n":2},{"chr":"Chr4","mb":44.2,"n":0},{"chr":"Chr4","mb":46.5,"n":0},{"chr":"Chr4","mb":47,"n":1},{"chr":"Chr4","mb":48,"n":1},{"chr":"Chr4","mb":49.6,"n":4},{"chr":"Chr4","mb":50.5,"n":1},{"chr":"Chr4","mb":51.2,"n":2},{"chr":"Chr4","mb":52,"n":1},{"chr":"Chr4","mb":52.7,"n":2},{"chr":"Chr4","mb":53.5,"n":1},{"chr":"Chr4","mb":54.5,"n":2},{"chr":"Chr4","mb":55.5,"n":1},{"chr":"Chr4","mb":56.3,"n":1},{"chr":"Chr4","mb":57.1,"n":3},{"chr":"Chr4","mb":58,"n":1},{"chr":"Chr4","mb":58.9,"n":2},{"chr":"Chr4","mb":60,"n":1},{"chr":"Chr4","mb":61,"n":2},{"chr":"Chr4","mb":61.7,"n":3},{"chr":"Chr4","mb":62.5,"n":2},{"chr":"Chr4","mb":63.7,"n":8},{"chr":"Chr4","mb":64.5,"n":2},{"chr":"Chr4","mb":65.5,"n":4},{"chr":"Chr4","mb":66.3,"n":2},{"chr":"Chr4","mb":67.2,"n":5},{"chr":"Chr4","mb":68.3,"n":2},{"chr":"Chr4","mb":69.4,"n":3},{"chr":"Chr4","mb":70.3,"n":2},{"chr":"Chr4","mb":71,"n":3},{"chr":"Chr4","mb":72,"n":2},{"chr":"Chr4","mb":72.8,"n":2},{"chr":"Chr4","mb":73.5,"n":0},
{"chr":"Chr5","mb":0,"n":0},{"chr":"Chr5","mb":0.5,"n":3},{"chr":"Chr5","mb":1.5,"n":2},{"chr":"Chr5","mb":2.5,"n":3},{"chr":"Chr5","mb":3.7,"n":21},{"chr":"Chr5","mb":4.8,"n":4},{"chr":"Chr5","mb":5.5,"n":2},{"chr":"Chr5","mb":6.3,"n":4},{"chr":"Chr5","mb":7.4,"n":2},{"chr":"Chr5","mb":8.5,"n":4},{"chr":"Chr5","mb":9.6,"n":2},{"chr":"Chr5","mb":10.7,"n":4},{"chr":"Chr5","mb":11.8,"n":1},{"chr":"Chr5","mb":12.9,"n":1},{"chr":"Chr5","mb":14,"n":0},{"chr":"Chr5","mb":15.8,"n":0},{"chr":"Chr5","mb":16.3,"n":1},{"chr":"Chr5","mb":17,"n":0},{"chr":"Chr5","mb":20.8,"n":0},{"chr":"Chr5","mb":21.3,"n":1},{"chr":"Chr5","mb":22,"n":1},{"chr":"Chr5","mb":22.9,"n":1},{"chr":"Chr5","mb":23.7,"n":1},{"chr":"Chr5","mb":24.6,"n":1},{"chr":"Chr5","mb":25.5,"n":0},{"chr":"Chr5","mb":36.2,"n":0},{"chr":"Chr5","mb":36.7,"n":1},{"chr":"Chr5","mb":37.3,"n":0},{"chr":"Chr5","mb":42.8,"n":0},{"chr":"Chr5","mb":43.3,"n":1},{"chr":"Chr5","mb":44.5,"n":1},{"chr":"Chr5","mb":45.9,"n":2},{"chr":"Chr5","mb":47,"n":1},{"chr":"Chr5","mb":47.7,"n":3},{"chr":"Chr5","mb":48.5,"n":2},{"chr":"Chr5","mb":49.2,"n":3},{"chr":"Chr5","mb":50,"n":2},{"chr":"Chr5","mb":51,"n":4},{"chr":"Chr5","mb":52,"n":1},{"chr":"Chr5","mb":52.5,"n":0},
{"chr":"Chr6","mb":0,"n":0},{"chr":"Chr6","mb":0.7,"n":7},{"chr":"Chr6","mb":1.5,"n":2},{"chr":"Chr6","mb":2.4,"n":2},{"chr":"Chr6","mb":3.5,"n":3},{"chr":"Chr6","mb":4.3,"n":1},{"chr":"Chr6","mb":5,"n":1},{"chr":"Chr6","mb":5.8,"n":1},{"chr":"Chr6","mb":6.6,"n":3},{"chr":"Chr6","mb":7.5,"n":1},{"chr":"Chr6","mb":8.3,"n":1},{"chr":"Chr6","mb":9,"n":0},{"chr":"Chr6","mb":11,"n":0},{"chr":"Chr6","mb":11.6,"n":2},{"chr":"Chr6","mb":12.3,"n":0},{"chr":"Chr6","mb":21,"n":0},{"chr":"Chr6","mb":21.5,"n":1},{"chr":"Chr6","mb":22.6,"n":1},{"chr":"Chr6","mb":23.3,"n":0},{"chr":"Chr6","mb":25.7,"n":0},{"chr":"Chr6","mb":26.3,"n":2},{"chr":"Chr6","mb":26.9,"n":0},{"chr":"Chr6","mb":28.8,"n":0},{"chr":"Chr6","mb":29.2,"n":1},{"chr":"Chr6","mb":30.5,"n":1},{"chr":"Chr6","mb":31.2,"n":0},{"chr":"Chr6","mb":32.7,"n":0},{"chr":"Chr6","mb":33.1,"n":1},{"chr":"Chr6","mb":34,"n":1},{"chr":"Chr6","mb":34.7,"n":3},{"chr":"Chr6","mb":35.5,"n":1},{"chr":"Chr6","mb":36.2,"n":1},{"chr":"Chr6","mb":37,"n":1},{"chr":"Chr6","mb":38,"n":1},{"chr":"Chr6","mb":39,"n":1},{"chr":"Chr6","mb":39.8,"n":1},{"chr":"Chr6","mb":40.7,"n":0},{"chr":"Chr6","mb":45.8,"n":0},{"chr":"Chr6","mb":46.3,"n":1},{"chr":"Chr6","mb":47.4,"n":8},{"chr":"Chr6","mb":48.5,"n":1},{"chr":"Chr6","mb":49.6,"n":1},{"chr":"Chr6","mb":50.3,"n":1},{"chr":"Chr6","mb":51.2,"n":2},{"chr":"Chr6","mb":52.3,"n":1},{"chr":"Chr6","mb":53.3,"n":1},{"chr":"Chr6","mb":54.5,"n":3},{"chr":"Chr6","mb":55.6,"n":1},{"chr":"Chr6","mb":56.5,"n":1},{"chr":"Chr6","mb":57.3,"n":3},{"chr":"Chr6","mb":58.1,"n":1},{"chr":"Chr6","mb":58.9,"n":1},{"chr":"Chr6","mb":59.6,"n":0},
{"chr":"Chr7","mb":0,"n":0},{"chr":"Chr7","mb":0.9,"n":1},{"chr":"Chr7","mb":1.5,"n":8},{"chr":"Chr7","mb":2.6,"n":2},{"chr":"Chr7","mb":3.7,"n":2},{"chr":"Chr7","mb":4.8,"n":1},{"chr":"Chr7","mb":5.7,"n":5},{"chr":"Chr7","mb":6.8,"n":2},{"chr":"Chr7","mb":7.5,"n":5},{"chr":"Chr7","mb":8.6,"n":2},{"chr":"Chr7","mb":9.7,"n":2},{"chr":"Chr7","mb":10.8,"n":1},{"chr":"Chr7","mb":11.9,"n":1},{"chr":"Chr7","mb":12.5,"n":0},{"chr":"Chr7","mb":17.5,"n":0},{"chr":"Chr7","mb":18,"n":1},{"chr":"Chr7","mb":18.7,"n":0},{"chr":"Chr7","mb":31.8,"n":0},{"chr":"Chr7","mb":32.3,"n":1},{"chr":"Chr7","mb":33,"n":0},{"chr":"Chr7","mb":34.5,"n":0},{"chr":"Chr7","mb":35,"n":1},{"chr":"Chr7","mb":35.7,"n":0},{"chr":"Chr7","mb":40.4,"n":0},{"chr":"Chr7","mb":41.5,"n":2},{"chr":"Chr7","mb":42.6,"n":1},{"chr":"Chr7","mb":43.7,"n":1},{"chr":"Chr7","mb":45.3,"n":1},{"chr":"Chr7","mb":46.6,"n":3},{"chr":"Chr7","mb":47.4,"n":8},{"chr":"Chr7","mb":48.3,"n":2},{"chr":"Chr7","mb":49.3,"n":3},{"chr":"Chr7","mb":50.3,"n":16},{"chr":"Chr7","mb":51.3,"n":11},{"chr":"Chr7","mb":52.2,"n":3},{"chr":"Chr7","mb":53.3,"n":3},{"chr":"Chr7","mb":54.4,"n":3},{"chr":"Chr7","mb":55.5,"n":3},{"chr":"Chr7","mb":56.5,"n":3},{"chr":"Chr7","mb":57,"n":0},
{"chr":"Chr8","mb":0,"n":0},{"chr":"Chr8","mb":0.3,"n":1},{"chr":"Chr8","mb":1.3,"n":1},{"chr":"Chr8","mb":2.4,"n":0},{"chr":"Chr8","mb":6.8,"n":0},{"chr":"Chr8","mb":7.3,"n":1},{"chr":"Chr8","mb":7.9,"n":0},{"chr":"Chr8","mb":9,"n":0},{"chr":"Chr8","mb":9.7,"n":4},{"chr":"Chr8","mb":10.4,"n":0},{"chr":"Chr8","mb":15.3,"n":0},{"chr":"Chr8","mb":15.7,"n":1},{"chr":"Chr8","mb":16.5,"n":1},{"chr":"Chr8","mb":17.5,"n":1},{"chr":"Chr8","mb":18.2,"n":0},{"chr":"Chr8","mb":31.5,"n":0},{"chr":"Chr8","mb":32,"n":1},{"chr":"Chr8","mb":33,"n":2},{"chr":"Chr8","mb":34.3,"n":1},{"chr":"Chr8","mb":35.4,"n":0},{"chr":"Chr8","mb":36.5,"n":0},{"chr":"Chr8","mb":37.1,"n":1},{"chr":"Chr8","mb":38.7,"n":6},{"chr":"Chr8","mb":39.8,"n":1},{"chr":"Chr8","mb":40.8,"n":2},{"chr":"Chr8","mb":41.9,"n":1},{"chr":"Chr8","mb":43,"n":2},{"chr":"Chr8","mb":44.1,"n":3},{"chr":"Chr8","mb":45.2,"n":4},{"chr":"Chr8","mb":46.3,"n":5},{"chr":"Chr8","mb":47.4,"n":4},{"chr":"Chr8","mb":48.5,"n":6},{"chr":"Chr8","mb":49.6,"n":5},{"chr":"Chr8","mb":50.7,"n":3},{"chr":"Chr8","mb":51.8,"n":2},{"chr":"Chr8","mb":52.9,"n":3},{"chr":"Chr8","mb":54,"n":1},{"chr":"Chr8","mb":55.1,"n":1},{"chr":"Chr8","mb":56.2,"n":1},{"chr":"Chr8","mb":56.9,"n":0},
{"chr":"Chr9","mb":0,"n":0},{"chr":"Chr9","mb":0.7,"n":10},{"chr":"Chr9","mb":1.4,"n":1},{"chr":"Chr9","mb":2,"n":1},{"chr":"Chr9","mb":3.1,"n":1},{"chr":"Chr9","mb":4.2,"n":2},{"chr":"Chr9","mb":5.3,"n":1},{"chr":"Chr9","mb":6.4,"n":3},{"chr":"Chr9","mb":7.5,"n":1},{"chr":"Chr9","mb":8.6,"n":2},{"chr":"Chr9","mb":9.7,"n":5},{"chr":"Chr9","mb":10.8,"n":4},{"chr":"Chr9","mb":11.7,"n":4},{"chr":"Chr9","mb":12.8,"n":1},{"chr":"Chr9","mb":13.4,"n":0},{"chr":"Chr9","mb":16.2,"n":0},{"chr":"Chr9","mb":16.7,"n":1},{"chr":"Chr9","mb":17.3,"n":0},{"chr":"Chr9","mb":18.8,"n":0},{"chr":"Chr9","mb":19.3,"n":1},{"chr":"Chr9","mb":19.9,"n":0},{"chr":"Chr9","mb":31.6,"n":0},{"chr":"Chr9","mb":32.1,"n":1},{"chr":"Chr9","mb":32.7,"n":0},{"chr":"Chr9","mb":37.5,"n":0},{"chr":"Chr9","mb":38,"n":1},{"chr":"Chr9","mb":38.6,"n":0},{"chr":"Chr9","mb":41.5,"n":0},{"chr":"Chr9","mb":42.1,"n":1},{"chr":"Chr9","mb":43.2,"n":2},{"chr":"Chr9","mb":44.3,"n":3},{"chr":"Chr9","mb":45.4,"n":5},{"chr":"Chr9","mb":46.5,"n":3},{"chr":"Chr9","mb":47.6,"n":1},{"chr":"Chr9","mb":48.7,"n":1},{"chr":"Chr9","mb":49.8,"n":6},{"chr":"Chr9","mb":50.9,"n":6},{"chr":"Chr9","mb":52,"n":2},{"chr":"Chr9","mb":53.1,"n":5},{"chr":"Chr9","mb":53.7,"n":7},{"chr":"Chr9","mb":54.8,"n":2},{"chr":"Chr9","mb":56.3,"n":1},{"chr":"Chr9","mb":57.5,"n":1},{"chr":"Chr9","mb":58.6,"n":3},{"chr":"Chr9","mb":59.7,"n":3},{"chr":"Chr9","mb":60.5,"n":0},
{"chr":"Chr10","mb":0,"n":0},{"chr":"Chr10","mb":0.6,"n":2},{"chr":"Chr10","mb":1.5,"n":1},{"chr":"Chr10","mb":2.2,"n":0},{"chr":"Chr10","mb":5.7,"n":0},{"chr":"Chr10","mb":6.2,"n":1},{"chr":"Chr10","mb":6.8,"n":0},{"chr":"Chr10","mb":10.8,"n":0},{"chr":"Chr10","mb":11.3,"n":1},{"chr":"Chr10","mb":12,"n":1},{"chr":"Chr10","mb":12.8,"n":1},{"chr":"Chr10","mb":13.5,"n":0},{"chr":"Chr10","mb":19.9,"n":0},{"chr":"Chr10","mb":20.4,"n":1},{"chr":"Chr10","mb":21,"n":0},{"chr":"Chr10","mb":28,"n":0},{"chr":"Chr10","mb":28.6,"n":1},{"chr":"Chr10","mb":29.3,"n":0},{"chr":"Chr10","mb":30.1,"n":0},{"chr":"Chr10","mb":30.8,"n":3},{"chr":"Chr10","mb":31.4,"n":0},{"chr":"Chr10","mb":40.6,"n":0},{"chr":"Chr10","mb":41.2,"n":1},{"chr":"Chr10","mb":42.4,"n":1},{"chr":"Chr10","mb":43.9,"n":1},{"chr":"Chr10","mb":45.2,"n":2},{"chr":"Chr10","mb":46.3,"n":2},{"chr":"Chr10","mb":47.8,"n":3},{"chr":"Chr10","mb":48.9,"n":6},{"chr":"Chr10","mb":50,"n":9},{"chr":"Chr10","mb":51.1,"n":3},{"chr":"Chr10","mb":52.2,"n":3},{"chr":"Chr10","mb":53.3,"n":6},{"chr":"Chr10","mb":54.4,"n":3},{"chr":"Chr10","mb":55.5,"n":2},{"chr":"Chr10","mb":56.6,"n":4},{"chr":"Chr10","mb":57.7,"n":2},{"chr":"Chr10","mb":58.8,"n":1},{"chr":"Chr10","mb":59.7,"n":0},
{"chr":"Chr11","mb":0,"n":0},{"chr":"Chr11","mb":0.9,"n":10},{"chr":"Chr11","mb":1.9,"n":1},{"chr":"Chr11","mb":2.8,"n":0},{"chr":"Chr11","mb":4.3,"n":0},{"chr":"Chr11","mb":4.8,"n":1},{"chr":"Chr11","mb":5.9,"n":3},{"chr":"Chr11","mb":7,"n":4},{"chr":"Chr11","mb":7.7,"n":10},{"chr":"Chr11","mb":8.5,"n":5},{"chr":"Chr11","mb":9.2,"n":3},{"chr":"Chr11","mb":10.3,"n":3},{"chr":"Chr11","mb":11.4,"n":1},{"chr":"Chr11","mb":12.5,"n":2},{"chr":"Chr11","mb":13.6,"n":1},{"chr":"Chr11","mb":14.7,"n":1},{"chr":"Chr11","mb":15.8,"n":1},{"chr":"Chr11","mb":16.5,"n":0},{"chr":"Chr11","mb":29.6,"n":0},{"chr":"Chr11","mb":30.1,"n":1},{"chr":"Chr11","mb":31.2,"n":1},{"chr":"Chr11","mb":32.3,"n":1},{"chr":"Chr11","mb":33.4,"n":1},{"chr":"Chr11","mb":34.5,"n":1},{"chr":"Chr11","mb":35.6,"n":1},{"chr":"Chr11","mb":36.7,"n":1},{"chr":"Chr11","mb":37.8,"n":2},{"chr":"Chr11","mb":38.5,"n":0},{"chr":"Chr11","mb":41.3,"n":0},{"chr":"Chr11","mb":41.8,"n":1},{"chr":"Chr11","mb":42.6,"n":6},{"chr":"Chr11","mb":43.3,"n":8},{"chr":"Chr11","mb":44.4,"n":3},{"chr":"Chr11","mb":45.5,"n":1},{"chr":"Chr11","mb":46.1,"n":0},
{"chr":"Chr12","mb":0,"n":0},{"chr":"Chr12","mb":0.7,"n":2},{"chr":"Chr12","mb":1.8,"n":8},{"chr":"Chr12","mb":2.6,"n":16},{"chr":"Chr12","mb":3.3,"n":6},{"chr":"Chr12","mb":4,"n":4},{"chr":"Chr12","mb":5.1,"n":3},{"chr":"Chr12","mb":6.2,"n":2},{"chr":"Chr12","mb":7.3,"n":1},{"chr":"Chr12","mb":8.4,"n":1},{"chr":"Chr12","mb":9.9,"n":2},{"chr":"Chr12","mb":11,"n":1},{"chr":"Chr12","mb":12.1,"n":1},{"chr":"Chr12","mb":13.2,"n":0},{"chr":"Chr12","mb":28.8,"n":0},{"chr":"Chr12","mb":29.3,"n":1},{"chr":"Chr12","mb":29.9,"n":0},{"chr":"Chr12","mb":40.1,"n":0},{"chr":"Chr12","mb":40.7,"n":2},{"chr":"Chr12","mb":41.3,"n":0},{"chr":"Chr12","mb":48.3,"n":0},{"chr":"Chr12","mb":48.8,"n":1},{"chr":"Chr12","mb":49.9,"n":3},{"chr":"Chr12","mb":51,"n":5},{"chr":"Chr12","mb":51.9,"n":2},{"chr":"Chr12","mb":52.8,"n":2},{"chr":"Chr12","mb":53.9,"n":3},{"chr":"Chr12","mb":55,"n":2},{"chr":"Chr12","mb":56.1,"n":3},{"chr":"Chr12","mb":57.2,"n":4},{"chr":"Chr12","mb":58.3,"n":3},{"chr":"Chr12","mb":59.4,"n":2},{"chr":"Chr12","mb":60.3,"n":3},{"chr":"Chr12","mb":61.2,"n":16},{"chr":"Chr12","mb":61.6,"n":0}
 ],
 "pts":[
{"chr":"Chr7","mb":50.3,"n":1},
{"chr":"Chr12","mb":0.7,"n":8},{"chr":"Chr12","mb":2.6,"n":8},{"chr":"Chr12","mb":4,"n":8},{"chr":"Chr12","mb":2.6,"n":4},{"chr":"Chr12","mb":8.6,"n":4},{"chr":"Chr12","mb":6.4,"n":2},{"chr":"Chr12","mb":0.7,"n":1},{"chr":"Chr12","mb":29.7,"n":1},{"chr":"Chr12","mb":40.7,"n":6},{"chr":"Chr12","mb":50.8,"n":5},{"chr":"Chr12","mb":49.7,"n":3},{"chr":"Chr12","mb":56.8,"n":3},{"chr":"Chr12","mb":51.9,"n":2}
 ]
},
"vconcat":[
 {
  "width":894,"height":550,
  "layer":[
   {"data":{"name":"lin"},"mark":{"type":"line","strokeWidth":1.3},
    "encoding":{
     "x":{"field":"bp","type":"quantitative","scale":{"domain":[-144.4,3441.6],"nice":false,"zero":false},
      "axis":{"style":"tx","values":[0,1000,2000,3000],"format":"d","grid":true,"labelExpr":"datum.value === 2000 ? '' : datum.label","title":"Position (bp)","titleFontSize":26,"titleFontWeight":"bold","titleColor":"#000000","titleX":498.8,"titleY":31.7,"titleBaseline":"alphabetic","zindex":1}},
     "y":{"field":"v","type":"quantitative","scale":{"domain":[0,2.04],"nice":false,"zero":false},
      "axis":{"style":"tx","values":[0,1,2],"format":"d","grid":true,"offset":5,"title":"log10 (Read depth +1)","titleFontSize":26,"titleFontWeight":"bold","titleColor":"#000000","titleX":-35,"titleY":236.7,"titleBaseline":"middle","titleAngle":-90,"zindex":1}},
     "color":{"field":"s","type":"nominal","scale":{"domain":["INF1-R bulk","INF1-NR bulk","MCD360-1","GIG362-6"],"range":["#e41a1c","#5f8f5f","#ffcc00","#ff8cc6"]},
      "legend":{"orient":"none","legendX":942,"legendY":34,"title":null,"symbolType":"stroke","symbolSize":729,"symbolStrokeWidth":2,"labelFontSize":26,"labelFontWeight":"bold","labelFont":"Liberation Sans","labelColor":"#000000","labelLimit":400,"rowPadding":8,"labelOffset":12,"padding":0}}
    }},
   {"data":{"name":"stp"},"mark":{"type":"line","interpolate":"step-after","strokeWidth":1.3},
    "encoding":{
     "x":{"field":"bp","type":"quantitative","scale":{"domain":[-144.4,3441.6],"nice":false,"zero":false},
      "axis":{"orient":"top","values":[500,1500,2500],"grid":true,"gridColor":"#ebebeb","gridWidth":1,"domain":false,"ticks":false,"labels":false,"title":null}},
     "y":{"field":"v","type":"quantitative","scale":{"domain":[0,2.04],"nice":false,"zero":false},
      "axis":{"orient":"right","values":[0.5,1.5],"grid":true,"gridColor":"#ebebeb","gridWidth":1,"domainColor":"#8c8c8c","domainWidth":1.5,"ticks":false,"labels":false,"title":null}},
     "color":{"field":"s","type":"nominal","scale":{"domain":["INF1-R bulk","INF1-NR bulk","MCD360-1","GIG362-6"],"range":["#e41a1c","#5f8f5f","#ffcc00","#ff8cc6"]}}
    }},
   {"data":{"values":[{"t":"(a)"}]},"mark":{"type":"text","fontSize":20,"fontWeight":"bold","baseline":"middle","align":"center","color":"#000000"},
    "encoding":{
     "x":{"datum":-364,"scale":{"domain":[-144.4,3441.6],"nice":false,"zero":false},"axis":null},
     "y":{"datum":2.052,"scale":{"domain":[0,2.04],"nice":false,"zero":false},"axis":null},
     "text":{"field":"t"}}},
   {"data":{"values":[{"t":"dRLP/KSeq of ELR (MK388409.1)"}]},"mark":{"type":"text","fontSize":36,"fontWeight":"bold","baseline":"alphabetic","align":"center","color":"#000000"},
    "encoding":{
     "x":{"datum":1860,"scale":{"domain":[-144.4,3441.6],"nice":false,"zero":false},"axis":null},
     "y":{"datum":2.027,"scale":{"domain":[0,2.04],"nice":false,"zero":false},"axis":null},
     "text":{"field":"t"}}}
  ],
  "resolve":{"axis":{"x":"independent","y":"independent"}}
 },
 {
  "spacing":7,"bounds":"flush",
  "resolve":{"scale":{"x":"independent","y":"independent"}},
  "hconcat":[
   {"width":148,"height":373,"layer":[
    {"data":{"name":"snp"},"transform":[{"filter":"datum.chr === 'Chr1'"}],"mark":{"type":"area","color":"#F8766D","opacity":0.38},
     "encoding":{"x":{"field":"mb","type":"quantitative","scale":{"domain":[-3.9,93.5],"nice":false,"zero":false},"axis":{"style":"bx","values":[0,20,40,60,80],"labelOverlap":false,"labelSeparation":-40,"labelFlush":false,"title":null}},
      "y":{"field":"n","type":"quantitative","scale":{"domain":[-0.2,21.2],"nice":false,"zero":false},"axis":{"values":[0,5,10,15,20],"labelOverlap":false,"domainColor":"#5f5f5f","domainWidth":2,"tickColor":"#5f5f5f","tickSize":4,"tickWidth":1.5,"labelFontSize":12,"labelColor":"#333333","labelPadding":2,"grid":false,"title":["Number of informative","SNPs per 1000 kb"],"titleFontSize":26,"titleFontWeight":"bold","titleColor":"#000000","titleLineHeight":30.8,"titleX":-79.7,"titleY":192.5,"titleBaseline":"middle","titleAngle":-90}},
      "y2":{"datum":0}}},
    {"data":{"values":[{"t":"Chr1"}]},"mark":{"type":"text","fontSize":28,"fontWeight":"bold","baseline":"middle","align":"center","color":"#000000"},
     "encoding":{"x":{"datum":36.6,"axis":{"style":"bx","values":[0,20,40,60,80],"labelOverlap":false,"labelSeparation":-40,"labelFlush":false,"title":null}},"y":{"datum":17.3},"text":{"field":"t"}}},
    {"data":{"values":[{"t":"(b)"}]},"mark":{"type":"text","fontSize":20,"fontWeight":"bold","baseline":"middle","align":"center","color":"#000000"},
     "encoding":{"x":{"datum":-40,"axis":{"style":"bx","values":[0,20,40,60,80],"labelOverlap":false,"labelSeparation":-40,"labelFlush":false,"title":null}},"y":{"datum":21.7},"text":{"field":"t"}}}
   ]},
   {"width":81,"height":373,"layer":[
    {"data":{"name":"snp"},"transform":[{"filter":"datum.chr === 'Chr2'"}],"mark":{"type":"area","color":"#DE8C00","opacity":0.38},
     "encoding":{"x":{"field":"mb","type":"quantitative","scale":{"domain":[-2,51.4],"nice":false,"zero":false},"axis":{"style":"bx","values":[0,20,40],"labelOverlap":false,"labelSeparation":-40,"labelFlush":false,"title":null}},
      "y":{"field":"n","type":"quantitative","scale":{"domain":[-0.2,21.2],"nice":false,"zero":false},"axis":null},"y2":{"datum":0}}},
    {"data":{"values":[{"t":"Chr2"}]},"mark":{"type":"text","fontSize":28,"fontWeight":"bold","baseline":"middle","align":"center","color":"#000000"},
     "encoding":{"x":{"datum":16.2,"axis":{"style":"bx","values":[0,20,40],"labelOverlap":false,"labelSeparation":-40,"labelFlush":false,"title":null}},"y":{"datum":17.3,"axis":null},"text":{"field":"t"}}}
   ]},
   {"width":104,"height":373,"layer":[
    {"data":{"name":"snp"},"transform":[{"filter":"datum.chr === 'Chr3'"}],"mark":{"type":"area","color":"#B79F00","opacity":0.38},
     "encoding":{"x":{"field":"mb","type":"quantitative","scale":{"domain":[-2.4,66.2],"nice":false,"zero":false},"axis":{"style":"bx","values":[0,20,40,60],"labelOverlap":false,"labelSeparation":-40,"labelFlush":false,"title":null}},
      "y":{"field":"n","type":"quantitative","scale":{"domain":[-0.2,21.2],"nice":false,"zero":false},"axis":null},"y2":{"datum":0}}},
    {"data":{"values":[{"t":"Chr3"}]},"mark":{"type":"text","fontSize":28,"fontWeight":"bold","baseline":"middle","align":"center","color":"#000000"},
     "encoding":{"x":{"datum":25.5,"axis":{"style":"bx","values":[0,20,40,60],"labelOverlap":false,"labelSeparation":-40,"labelFlush":false,"title":null}},"y":{"datum":17.3,"axis":null},"text":{"field":"t"}}}
   ]},
   {"width":121,"height":373,"layer":[
    {"data":{"name":"snp"},"transform":[{"filter":"datum.chr === 'Chr4'"}],"mark":{"type":"area","color":"#7CAE00","opacity":0.38},
     "encoding":{"x":{"field":"mb","type":"quantitative","scale":{"domain":[-3.3,76.5],"nice":false,"zero":false},"axis":{"style":"bx","values":[0,20,40,60],"labelOverlap":false,"labelSeparation":-40,"labelFlush":false,"title":null}},
      "y":{"field":"n","type":"quantitative","scale":{"domain":[-0.2,21.2],"nice":false,"zero":false},"axis":null},"y2":{"datum":0}}},
    {"data":{"values":[{"t":"Chr4"}]},"mark":{"type":"text","fontSize":28,"fontWeight":"bold","baseline":"middle","align":"center","color":"#000000"},
     "encoding":{"x":{"datum":29,"axis":{"style":"bx","values":[0,20,40,60],"labelOverlap":false,"labelSeparation":-40,"labelFlush":false,"title":null}},"y":{"datum":17.3,"axis":null},"text":{"field":"t"}}}
   ]},
   {"width":88,"height":373,"layer":[
    {"data":{"name":"snp"},"transform":[{"filter":"datum.chr === 'Chr5'"}],"mark":{"type":"area","color":"#00BA38","opacity":0.38},
     "encoding":{"x":{"field":"mb","type":"quantitative","scale":{"domain":[-2.2,55.8],"nice":false,"zero":false},"axis":{"style":"bx","values":[0,20,40],"labelOverlap":false,"labelSeparation":-40,"labelFlush":false,"title":null}},
      "y":{"field":"n","type":"quantitative","scale":{"domain":[-0.2,21.2],"nice":false,"zero":false},"axis":null},"y2":{"datum":0}}},
    {"data":{"values":[{"t":"Chr5"}]},"mark":{"type":"text","fontSize":28,"fontWeight":"bold","baseline":"middle","align":"center","color":"#000000"},
     "encoding":{"x":{"datum":23.7,"axis":{"style":"bx","values":[0,20,40],"labelOverlap":false,"labelSeparation":-40,"labelFlush":false,"title":null}},"y":{"datum":17.2,"axis":null},"text":{"field":"t"}}}
   ]},
   {"width":98,"height":373,"layer":[
    {"data":{"name":"snp"},"transform":[{"filter":"datum.chr === 'Chr6'"}],"mark":{"type":"area","color":"#00C08B","opacity":0.38},
     "encoding":{"x":{"field":"mb","type":"quantitative","scale":{"domain":[-2.4,62.2],"nice":false,"zero":false},"axis":{"style":"bx","values":[0,20,40,60],"labelOverlap":false,"labelSeparation":-40,"labelFlush":false,"title":"Physical location (Mb)","titleFontSize":14,"titleFontWeight":"normal","titleColor":"#1a1a1a","titleX":66.8,"titleY":30.7,"titleBaseline":"alphabetic"}},
      "y":{"field":"n","type":"quantitative","scale":{"domain":[-0.2,21.2],"nice":false,"zero":false},"axis":null},"y2":{"datum":0}}},
    {"data":{"values":[{"t":"Chr6"}]},"mark":{"type":"text","fontSize":28,"fontWeight":"bold","baseline":"middle","align":"center","color":"#000000"},
     "encoding":{"x":{"datum":21.2,"axis":{"style":"bx","values":[0,20,40,60],"labelOverlap":false,"labelSeparation":-40,"labelFlush":false,"title":"Physical location (Mb)","titleFontSize":14,"titleFontWeight":"normal","titleColor":"#1a1a1a","titleX":66.8,"titleY":30.7,"titleBaseline":"alphabetic"}},"y":{"datum":17.3,"axis":null},"text":{"field":"t"}}}
   ]},
   {"width":95,"height":373,"layer":[
    {"data":{"name":"snp"},"transform":[{"filter":"datum.chr === 'Chr7'"}],"mark":{"type":"area","color":"#00BFC4","opacity":0.38},
     "encoding":{"x":{"field":"mb","type":"quantitative","scale":{"domain":[-3.3,59.3],"nice":false,"zero":false},"axis":{"style":"bx","values":[0,20,40],"labelOverlap":false,"labelSeparation":-40,"labelFlush":false,"title":"Physical location (Mb)","titleFontSize":26,"titleFontWeight":"bold","titleColor":"#000000","titleX":-26.2,"titleY":58.4,"titleBaseline":"alphabetic"}},
      "y":{"field":"n","type":"quantitative","scale":{"domain":[-0.2,21.2],"nice":false,"zero":false},"axis":null},"y2":{"datum":0}}},
    {"data":{"name":"pts"},"transform":[{"filter":"datum.chr === 'Chr7'"}],"mark":{"type":"circle","size":38,"opacity":1,"color":"#00B3B8"},
     "encoding":{"x":{"field":"mb","type":"quantitative","axis":{"style":"bx","values":[0,20,40],"labelOverlap":false,"labelSeparation":-40,"labelFlush":false,"title":"Physical location (Mb)","titleFontSize":26,"titleFontWeight":"bold","titleColor":"#000000","titleX":-26.2,"titleY":58.4,"titleBaseline":"alphabetic"}},"y":{"field":"n","type":"quantitative","axis":null}}},
    {"data":{"values":[{"t":"Chr7"}]},"mark":{"type":"text","fontSize":28,"fontWeight":"bold","baseline":"middle","align":"center","color":"#000000"},
     "encoding":{"x":{"datum":19.8,"axis":{"style":"bx","values":[0,20,40],"labelOverlap":false,"labelSeparation":-40,"labelFlush":false,"title":"Physical location (Mb)","titleFontSize":26,"titleFontWeight":"bold","titleColor":"#000000","titleX":-26.2,"titleY":58.4,"titleBaseline":"alphabetic"}},"y":{"datum":17.3,"axis":null},"text":{"field":"t"}}}
   ]},
   {"width":94,"height":373,"layer":[
    {"data":{"name":"snp"},"transform":[{"filter":"datum.chr === 'Chr8'"}],"mark":{"type":"area","color":"#00B4F0","opacity":0.38},
     "encoding":{"x":{"field":"mb","type":"quantitative","scale":{"domain":[-2.6,59.4],"nice":false,"zero":false},"axis":{"style":"bx","values":[0,20,40],"labelOverlap":false,"labelSeparation":-40,"labelFlush":false,"title":null}},
      "y":{"field":"n","type":"quantitative","scale":{"domain":[-0.2,21.2],"nice":false,"zero":false},"axis":null},"y2":{"datum":0}}},
    {"data":{"values":[{"t":"Chr8"}]},"mark":{"type":"text","fontSize":28,"fontWeight":"bold","baseline":"middle","align":"center","color":"#000000"},
     "encoding":{"x":{"datum":23.6,"axis":{"style":"bx","values":[0,20,40],"labelOverlap":false,"labelSeparation":-40,"labelFlush":false,"title":null}},"y":{"datum":17.3,"axis":null},"text":{"field":"t"}}}
   ]},
   {"width":103,"height":373,"layer":[
    {"data":{"name":"snp"},"transform":[{"filter":"datum.chr === 'Chr9'"}],"mark":{"type":"area","color":"#619CFF","opacity":0.38},
     "encoding":{"x":{"field":"mb","type":"quantitative","scale":{"domain":[-3,64.9],"nice":false,"zero":false},"axis":{"style":"bx","values":[0,20,40,60],"labelOverlap":false,"labelSeparation":-40,"labelFlush":false,"title":null}},
      "y":{"field":"n","type":"quantitative","scale":{"domain":[-0.2,21.2],"nice":false,"zero":false},"axis":null},"y2":{"datum":0}}},
    {"data":{"values":[{"t":"Chr9"}]},"mark":{"type":"text","fontSize":28,"fontWeight":"bold","baseline":"middle","align":"center","color":"#000000"},
     "encoding":{"x":{"datum":26,"axis":{"style":"bx","values":[0,20,40,60],"labelOverlap":false,"labelSeparation":-40,"labelFlush":false,"title":null}},"y":{"datum":17.3,"axis":null},"text":{"field":"t"}}}
   ]},
   {"width":99,"height":373,"layer":[
    {"data":{"name":"snp"},"transform":[{"filter":"datum.chr === 'Chr10'"}],"mark":{"type":"area","color":"#C77CFF","opacity":0.38},
     "encoding":{"x":{"field":"mb","type":"quantitative","scale":{"domain":[-2.6,62.7],"nice":false,"zero":false},"axis":{"style":"bx","values":[0,20,40,60],"labelOverlap":false,"labelSeparation":-40,"labelFlush":false,"title":null}},
      "y":{"field":"n","type":"quantitative","scale":{"domain":[-0.2,21.2],"nice":false,"zero":false},"axis":null},"y2":{"datum":0}}},
    {"data":{"values":[{"t":"Chr10"}]},"mark":{"type":"text","fontSize":28,"fontWeight":"bold","baseline":"middle","align":"center","color":"#000000"},
     "encoding":{"x":{"datum":16,"axis":{"style":"bx","values":[0,20,40,60],"labelOverlap":false,"labelSeparation":-40,"labelFlush":false,"title":null}},"y":{"datum":17.3,"axis":null},"text":{"field":"t"}}}
   ]},
   {"width":76,"height":373,"layer":[
    {"data":{"name":"snp"},"transform":[{"filter":"datum.chr === 'Chr11'"}],"mark":{"type":"area","color":"#F564E3","opacity":0.38},
     "encoding":{"x":{"field":"mb","type":"quantitative","scale":{"domain":[-2.2,47.9],"nice":false,"zero":false},"axis":{"style":"bx","values":[0,20,40],"labelOverlap":false,"labelSeparation":-40,"labelFlush":false,"title":null}},
      "y":{"field":"n","type":"quantitative","scale":{"domain":[-0.2,21.2],"nice":false,"zero":false},"axis":null},"y2":{"datum":0}}},
    {"data":{"values":[{"t":"Chr11"}]},"mark":{"type":"text","fontSize":28,"fontWeight":"bold","baseline":"middle","align":"center","color":"#000000"},
     "encoding":{"x":{"datum":19.1,"axis":{"style":"bx","values":[0,20,40],"labelOverlap":false,"labelSeparation":-40,"labelFlush":false,"title":null}},"y":{"datum":17.3,"axis":null},"text":{"field":"t"}}}
   ]},
   {"width":102,"height":373,"layer":[
    {"data":{"name":"snp"},"transform":[{"filter":"datum.chr === 'Chr12'"}],"mark":{"type":"area","color":"#FF64B0","opacity":0.38},
     "encoding":{"x":{"field":"mb","type":"quantitative","scale":{"domain":[-2.8,64.5],"nice":false,"zero":false},"axis":{"style":"bx","values":[0,20,40,60],"labelOverlap":false,"labelSeparation":-40,"labelFlush":false,"title":null}},
      "y":{"field":"n","type":"quantitative","scale":{"domain":[-0.2,21.2],"nice":false,"zero":false},"axis":null},"y2":{"datum":0}}},
    {"data":{"name":"pts"},"transform":[{"filter":"datum.chr === 'Chr12'"}],"mark":{"type":"circle","size":38,"opacity":1,"color":"#FF4FA7"},
     "encoding":{"x":{"field":"mb","type":"quantitative","axis":{"style":"bx","values":[0,20,40,60],"labelOverlap":false,"labelSeparation":-40,"labelFlush":false,"title":null}},"y":{"field":"n","type":"quantitative","axis":null}}},
    {"data":{"values":[{"t":"Chr12"}]},"mark":{"type":"text","fontSize":28,"fontWeight":"bold","baseline":"middle","align":"center","color":"#000000"},
     "encoding":{"x":{"datum":29.4,"axis":{"style":"bx","values":[0,20,40,60],"labelOverlap":false,"labelSeparation":-40,"labelFlush":false,"title":null}},"y":{"datum":17.3,"axis":null},"text":{"field":"t"}}}
   ]}
  ]
 }
],
"spacing":62,
"bounds":"flush"
}
